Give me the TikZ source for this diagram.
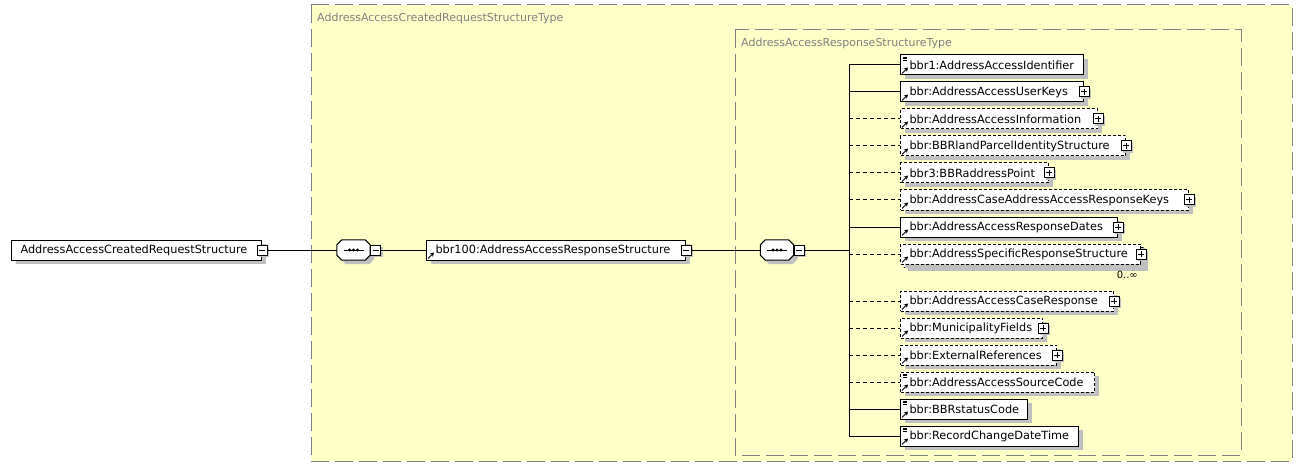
\documentclass[tikz,border=0pt]{standalone}
\usepackage{fontspec}
\setmainfont{DejaVu Sans}
\usetikzlibrary{positioning,shadows,arrows.meta}

\definecolor{schemafill}{RGB}{255,255,200}
\definecolor{frameline}{RGB}{128,128,128}
\definecolor{shadowgray}{RGB}{192,192,192}
\newcommand\boxfont{\fontsize{11.3}{13}\selectfont}
\newcommand\titlefont{\fontsize{11}{13}\selectfont}

% octagon of a sequence compositor, shifted by (#2,#3)
\newcommand\seqoutline[3]{([shift={(#2+5pt,#3)}]#1.north west) -- ([shift={(#2-5pt,#3)}]#1.north east)
  -- ([shift={(#2,#3-5pt)}]#1.north east) -- ([shift={(#2,#3+5pt)}]#1.south east)
  -- ([shift={(#2-5pt,#3)}]#1.south east) -- ([shift={(#2+5pt,#3)}]#1.south west)
  -- ([shift={(#2,#3+5pt)}]#1.south west) -- ([shift={(#2,#3-5pt)}]#1.north west) -- cycle}
\newcommand\drawseq[1]{%
  \fill[shadowgray] \seqoutline{#1}{4pt}{-4pt};
  \draw[fill=white, line width=1pt] \seqoutline{#1}{0pt}{0pt};
  \draw[line width=1pt] ([xshift=-10pt]#1.center) -- ([xshift=10pt]#1.center);
  \foreach \d in {-4,0,4} \fill ([xshift=\d pt]#1.center) circle (1.6pt);}

\tikzset{
  boxshadow/.style={drop shadow={shadow xshift=4pt, shadow yshift=-4pt, fill=shadowgray, opacity=1}},
  elem/.style={draw, fill=white, line width=1pt, anchor=west, minimum height=20pt,
    inner xsep=9pt, inner ysep=0pt, text width=#1, align=left, font=\boxfont, boxshadow},
  optelem/.style={elem=#1, dash pattern=on 3pt off 2pt},
  ref/.style={path picture={
    \draw[solid, line width=1pt, -{Stealth[length=4pt, width=4.5pt]}]
      ([shift={(1.5pt,1.5pt)}]path picture bounding box.south west) -- ++(6pt,6pt);}},
  simpleref/.style={path picture={
    \draw[solid, line width=1pt, -{Stealth[length=4pt, width=4.5pt]}]
      ([shift={(1.5pt,1.5pt)}]path picture bounding box.south west) -- ++(6pt,6pt);
    \draw[solid, line width=0.7pt]
      ([shift={(2pt,-2pt)}]path picture bounding box.north west) -- ++(4.5pt,0pt)
      ([shift={(2pt,-3.7pt)}]path picture bounding box.north west) -- ++(4.5pt,0pt)
      ([shift={(2pt,-5.4pt)}]path picture bounding box.north west) -- ++(4.5pt,0pt);}},
  btn/.style={draw, fill=white, line width=1pt, minimum size=10pt, inner sep=0pt,
    drop shadow={shadow xshift=2pt, shadow yshift=-2pt, fill=shadowgray, opacity=1}},
  minusbtn/.style={btn, path picture={
    \draw[solid, line width=1pt] ([xshift=2pt]path picture bounding box.west) -- ([xshift=-2pt]path picture bounding box.east);}},
  plusbtn/.style={btn, path picture={
    \draw[solid, line width=1pt] ([xshift=2pt]path picture bounding box.west) -- ([xshift=-2pt]path picture bounding box.east)
      ([yshift=-2pt]path picture bounding box.north) -- ([yshift=2pt]path picture bounding box.south);}},
  seq/.style={rectangle, minimum width=33pt, minimum height=20pt, inner sep=0pt},
  link/.style={line width=1pt},
  optlink/.style={dash pattern=on 4pt off 3pt},
  frame/.style={draw=frameline, line width=1pt, dash pattern=on 18pt off 6pt},
  title/.style={anchor=west, text=frameline, font=\titlefont, inner sep=0pt},
  occ/.style={anchor=north east, font=\fontsize{10}{12}\selectfont, inner sep=0pt}
}

\begin{document}
\begin{tikzpicture}[x=1pt, y=-1pt]
  \useasboundingbox (0,0) rectangle (1302,468);

  % type frames
  \fill[schemafill] (311,5) rectangle (1292,461);
  \draw[frame] (311,5) rectangle (1292,461);
  \draw[frame] (735,30) rectangle (1241,455);
  \node[title] (outertitle) at (317,18) {AddressAccessCreatedRequestStructureType};
  \node[title] (innertitle) at (741,43) {AddressAccessResponseStructureType};

  % root and sequences
  \node[elem=232] (root) at (11,250) {AddressAccessCreatedRequestStructure};
  \node[minusbtn] (rootb) at (root.east) {};
  \node[seq] (seqA) at (353.5,250) {};
  \drawseq{seqA}
  \node[minusbtn, anchor=west] (seqAb) at (seqA.east) {};
  \node[elem=241, ref] (resp) at (426,250) {bbr100:AddressAccessResponseStructure};
  \node[minusbtn] (respb) at (resp.east) {};
  \node[seq] (seqB) at (777,250) {};
  \drawseq{seqB}
  \node[minusbtn, anchor=west] (seqBb) at (seqB.east) {};
  \coordinate (bus) at (849,250);

  % children
  \node[elem=165, simpleref] (c1) at (900,65) {bbr1:AddressAccessIdentifier};
  \node[elem=165, ref] (c2) at (900,92) {bbr:AddressAccessUserKeys};
  \node[plusbtn] (c2b) at (c2.east) {};
  \node[optelem=179, ref] (c3) at (900,119) {bbr:AddressAccessInformation};
  \node[plusbtn] (c3b) at (c3.east) {};
  \node[optelem=207, ref] (c4) at (900,146) {bbr:BBRlandParcelIdentityStructure};
  \node[plusbtn] (c4b) at (c4.east) {};
  \node[optelem=130, ref] (c5) at (900,173) {bbr3:BBRaddressPoint};
  \node[plusbtn] (c5b) at (c5.east) {};
  \node[optelem=270, ref] (c6) at (900,200) {bbr:AddressCaseAddressAccessResponseKeys};
  \node[plusbtn] (c6b) at (c6.east) {};
  \node[elem=199, ref] (c7) at (900,227) {bbr:AddressAccessResponseDates};
  \node[plusbtn] (c7b) at (c7.east) {};
  \node[optelem=222] (c8back) at (903,257) {};
  \node[optelem=222, ref] (c8) at (900,254) {bbr:AddressSpecificResponseStructure};
  \node[plusbtn] (c8b) at (c8.east) {};
  \node[occ] (c8occ) at (1138,271) {0..∞};
  \node[optelem=195, ref] (c9) at (900,301) {bbr:AddressAccessCaseResponse};
  \node[plusbtn] (c9b) at (c9.east) {};
  \node[optelem=124, ref] (c10) at (900,328) {bbr:MunicipalityFields};
  \node[plusbtn] (c10b) at (c10.east) {};
  \node[optelem=138, ref] (c11) at (900,355) {bbr:ExternalReferences};
  \node[plusbtn] (c11b) at (c11.east) {};
  \node[optelem=176, simpleref] (c12) at (900,382) {bbr:AddressAccessSourceCode};
  \node[elem=109, simpleref] (c13) at (900,409) {bbr:BBRstatusCode};
  \node[elem=160, simpleref] (c14) at (900,436) {bbr:RecordChangeDateTime};

  % connectors
  \draw[link] (rootb) -- (seqA);
  \draw[link] (seqAb) -- (resp);
  \draw[link] (respb) -- (seqB);
  \draw[link] (seqBb) -- (bus);
  \draw[link] (bus |- c1.west) -- (bus |- c14.west);
  \foreach \c in {c1,c2,c7,c13,c14}
    \draw[link] (bus |- \c.west) -- (\c.west);
  \foreach \c in {c3,c4,c5,c6,c8,c9,c10,c11,c12}
    \draw[link, optlink] (bus |- \c.west) -- (\c.west);
\end{tikzpicture}
\end{document}
